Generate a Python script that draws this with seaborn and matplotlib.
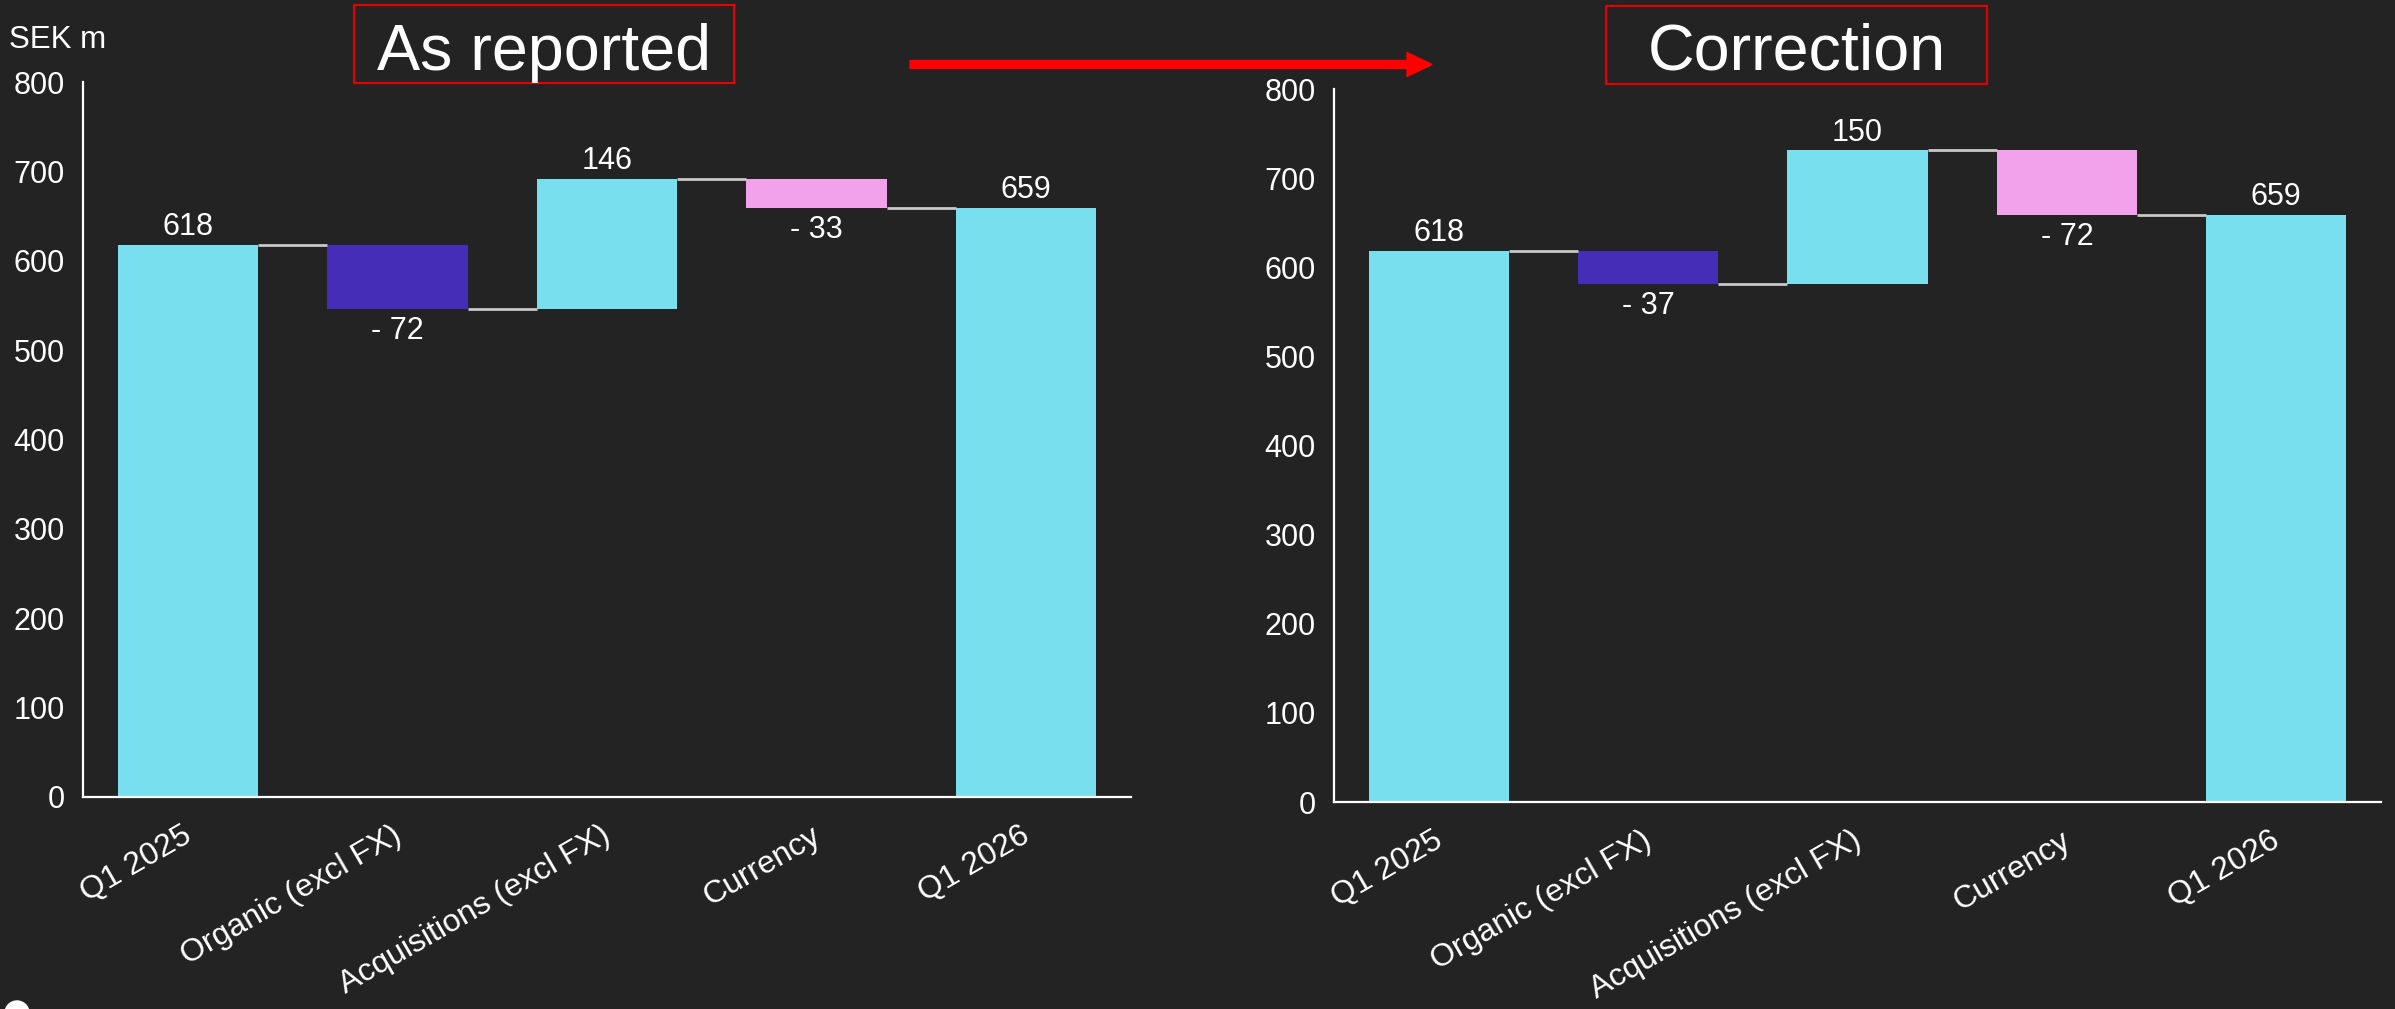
import numpy as np
import pandas as pd
import matplotlib
matplotlib.use("Agg")
import matplotlib.pyplot as plt
import matplotlib.transforms as mtransforms
from matplotlib.patches import Rectangle, FancyArrow, Ellipse
import seaborn as sns

# ---- data -------------------------------------------------------------
categories = ["Q1 2025", "Organic (excl FX)", "Acquisitions (excl FX)", "Currency", "Q1 2026"]
bar_kinds = ["total", "change", "change", "change", "total"]
reported_values = [618, -72, 146, -33, 659]
corrected_values = [618, -37, 150, -72, 659]
bar_colors = ["#77DFEE", "#452DB7", "#77DFEE", "#F2A2EA", "#77DFEE"]
y_ticks = [0, 100, 200, 300, 400, 500, 600, 700, 800]
panel_titles = ["As reported", "Correction"]
unit_label = "SEK m"

# ---- style ------------------------------------------------------------
BG = "#232323"
FG = "white"
CONNECTOR = "#C8C8C8"
W, H = 2395, 1009

sns.set_theme(style="white", rc={
    "figure.facecolor": BG,
    "axes.facecolor": BG,
    "axes.edgecolor": FG,
    "text.color": FG,
    "xtick.color": FG,
    "ytick.color": FG,
    "axes.labelcolor": FG,
})
plt.rcParams["font.family"] = ["Liberation Sans", "DejaVu Sans"]

fig = plt.figure(figsize=(W / 100, H / 100), dpi=100)


def px_rect(x0, y0, x1, y1):
    """Figure-fraction rectangle from pixel box (top-left origin)."""
    return [x0 / W, 1 - y1 / H, (x1 - x0) / W, (y1 - y0) / H]


def waterfall_frame(values):
    bottoms, heights, levels = [], [], []
    running = 0
    for v, kind in zip(values, bar_kinds):
        if kind == "total":
            bottoms.append(0)
            running = v
        else:
            bottoms.append(running)
            running += v
        heights.append(v)
        levels.append(running)
    return pd.DataFrame({"category": categories, "value": values,
                         "bottom": bottoms, "height": heights, "level": levels})


BAR_W = 0.67


def draw_panel(ax, values):
    df = waterfall_frame(values)
    sns.barplot(data=df, x="category", y="height", order=categories,
                bottom=df["bottom"].to_numpy(), width=BAR_W, color=bar_colors[0],
                saturation=1, errorbar=None, linewidth=0, ax=ax)
    for patch, c in zip(ax.patches, bar_colors):
        patch.set_facecolor(c)
        patch.set_edgecolor(c)

    # connectors between consecutive bars
    for i in range(len(categories) - 1):
        ax.hlines(df["level"][i], i + BAR_W / 2, i + 1 - BAR_W / 2,
                  color=CONNECTOR, lw=2.0, zorder=3)

    # value labels
    for i, row in df.iterrows():
        top = max(row["bottom"], row["bottom"] + row["height"])
        low = min(row["bottom"], row["bottom"] + row["height"])
        if row["value"] >= 0:
            ax.annotate(f"{row['value']:.0f}", (i, top), xytext=(0, 2),
                        textcoords="offset points", ha="center", va="bottom",
                        fontsize=22, color=FG)
        else:
            ax.annotate(f"- {abs(row['value']):.0f}", (i, low), xytext=(0, -5),
                        textcoords="offset points", ha="center", va="top",
                        fontsize=22, color=FG)

    ax.set_xlim(-0.5, len(categories) - 0.5)
    ax.set_ylim(0, 800)
    ax.set_yticks(y_ticks)
    ax.set_yticklabels([str(t) for t in y_ticks], fontsize=22)
    ax.set_xticks(range(len(categories)))
    ax.set_xticklabels(categories, fontsize=23, rotation=30, ha="right",
                       rotation_mode="anchor")
    ax.tick_params(axis="x", length=0, pad=17)
    ax.tick_params(axis="y", length=0, pad=13)
    # nudge the slanted category labels slightly left of the tick
    shift = mtransforms.ScaledTranslation(-6 / 100, 0, fig.dpi_scale_trans)
    for lab in ax.get_xticklabels():
        lab.set_transform(lab.get_transform() + shift)
    ax.set_xlabel("")
    ax.set_ylabel("")
    sns.despine(ax=ax)
    for s in ("left", "bottom"):
        ax.spines[s].set_linewidth(1.6)
        ax.spines[s].set_color(FG)


ax_left = fig.add_axes(px_rect(83, 82, 1131, 797))
ax_right = fig.add_axes(px_rect(1334, 89, 2381, 802))
draw_panel(ax_left, reported_values)
draw_panel(ax_right, corrected_values)

# ---- annotations around the panels -----------------------------------
fig.text(9 / W, 1 - 48 / H, unit_label, fontsize=22.5, color=FG,
         ha="left", va="baseline")

for title, (x0, y0, x1, y1), cx in zip(
        panel_titles, [(354, 5, 734, 83), (1606, 6, 1987, 84)], [544, 1797]):
    fig.patches.append(Rectangle((x0 / W, 1 - y1 / H), (x1 - x0) / W, (y1 - y0) / H,
                                 transform=fig.transFigure, fill=False,
                                 edgecolor="#E00000", linewidth=1.6))
    fig.text(cx / W, 1 - 70 / H, title, fontsize=46.5, color=FG,
             ha="center", va="baseline")

fig.patches.append(FancyArrow(910 / W, 1 - 64.5 / H, (1432 - 910) / W, 0,
                              width=8 / H, head_width=24 / H, head_length=25 / W,
                              length_includes_head=True, color="#FF0000",
                              transform=fig.transFigure))

fig.patches.append(Ellipse((17 / W, 1 - 1013 / H), 24 / W, 24 / H,
                           transform=fig.transFigure, color=FG))

fig.savefig("out.png", dpi=100, facecolor=BG)
